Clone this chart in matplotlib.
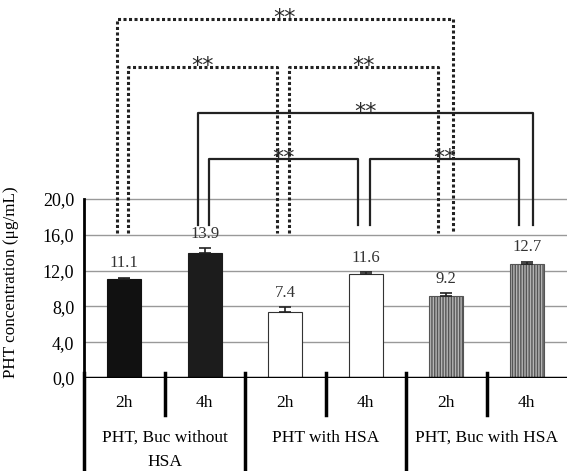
import numpy as np
import matplotlib
matplotlib.use("Agg")
import matplotlib.pyplot as plt

# Datos del grafico
grupos = ["PHT, Buc without\nHSA", "PHT with HSA", "PHT, Buc with HSA"]
tiempos = ["2h", "4h", "2h", "4h", "2h", "4h"]
valores = [11.1, 13.9, 7.4, 11.6, 9.2, 12.7]
errores = [0.1, 0.6, 0.5, 0.2, 0.3, 0.3]
yticks = [0, 4, 8, 12, 16, 20]

# Comparaciones significativas: (barra_a, barra_b, altura, estilo)
comparaciones = [
    (0, 4, 40.1, "dotted"),
    (0, 2, 34.7, "dotted"),
    (2, 4, 34.7, "dotted"),
    (1, 5, 29.6, "solid"),
    (1, 3, 24.5, "solid"),
    (3, 5, 24.5, "solid"),
]

plt.rcParams["font.family"] = ["Liberation Serif", "DejaVu Serif"]
plt.rcParams["hatch.linewidth"] = 1.0

fig = plt.figure(figsize=(5.67, 4.71), dpi=100)
ax = fig.add_axes([84 / 567, 93 / 471, 483 / 567, 378 / 471])

x = np.arange(len(valores))
caras = ["#111111", "#1c1c1c", "white", "white", "#b4b4b4", "#b4b4b4"]
bordes = ["#111111", "#1c1c1c", "#333333", "#333333", "#555555", "#555555"]
tramas = [None, None, None, None, "||||||", "||||||"]

for i in x:
    ax.bar(i, valores[i], width=0.42, color=caras[i], edgecolor=bordes[i],
           hatch=tramas[i], linewidth=0.8, zorder=2)
    ax.errorbar(i, valores[i], yerr=[[0], [errores[i]]], fmt="none",
                ecolor="#222222", elinewidth=1.2, capsize=4, capthick=1.2, zorder=3)
    ax.text(i, valores[i] + errores[i] + 0.7, f"{valores[i]:.1f}",
            ha="center", va="bottom", fontsize=12, color="#333333")

# Lineas de cuadricula
for yv in yticks[1:]:
    ax.axhline(yv, color="#999999", linewidth=1, zorder=0)
ax.axhline(0, color="black", linewidth=2.5, zorder=4)

# Corchetes de significancia
for a, b, h, estilo in comparaciones:
    if estilo == "dotted":
        ls, lw, fin = (0, (1, 0.8)), 2.2, 16.2
    else:
        ls, lw, fin = "-", 1.6, 17.1
    xa = a + (-0.09 if b - a == 4 else 0.05)
    xb = b + (0.08 if b - a == 4 else -0.1)
    ax.plot([xa, xa, xb, xb], [fin, h, h, fin], color="#222222",
            linestyle=ls, linewidth=lw, zorder=1)
    ax.text((xa + xb) / 2, h + 0.1, "**", ha="center", va="center",
            fontsize=16, family="DejaVu Sans", color="#2a2a2a")

# Tabla de categorias bajo el eje
for xv in [-0.5, 1.5, 3.5]:
    ax.plot([xv, xv], [0.6, -11], color="black", linewidth=2.5, clip_on=False)
for xv in [0.5, 2.5, 4.5]:
    ax.plot([xv, xv], [0.6, -4.1], color="black", linewidth=2.5, clip_on=False)
for i in x:
    ax.text(i, -2.8, tiempos[i], ha="center", va="center", fontsize=12.5)
for g, nombre in enumerate(grupos):
    for k, ln in enumerate(nombre.split("\n")):
        ax.text(2 * g + 0.5, -6.7 - 2.7 * k, ln, ha="center", va="center", fontsize=12.5)

ax.set_xlim(-0.5, 5.5)
ax.set_ylim(0, 42.2)
ax.set_yticks(yticks)
ax.set_yticklabels([f"{v:.1f}".replace(".", ",") for v in yticks], fontsize=13)
ax.tick_params(axis="y", length=0, pad=7)
ax.set_xticks([])
for lado in ["top", "right", "bottom"]:
    ax.spines[lado].set_visible(False)
ax.spines["left"].set_bounds(0, 20)
ax.spines["left"].set_linewidth(2)
ax.set_ylabel("PHT concentration (μg/mL)", fontsize=12.3)
ax.yaxis.set_label_coords(-0.135, 0.254)

fig.savefig("out.png", dpi=100)
